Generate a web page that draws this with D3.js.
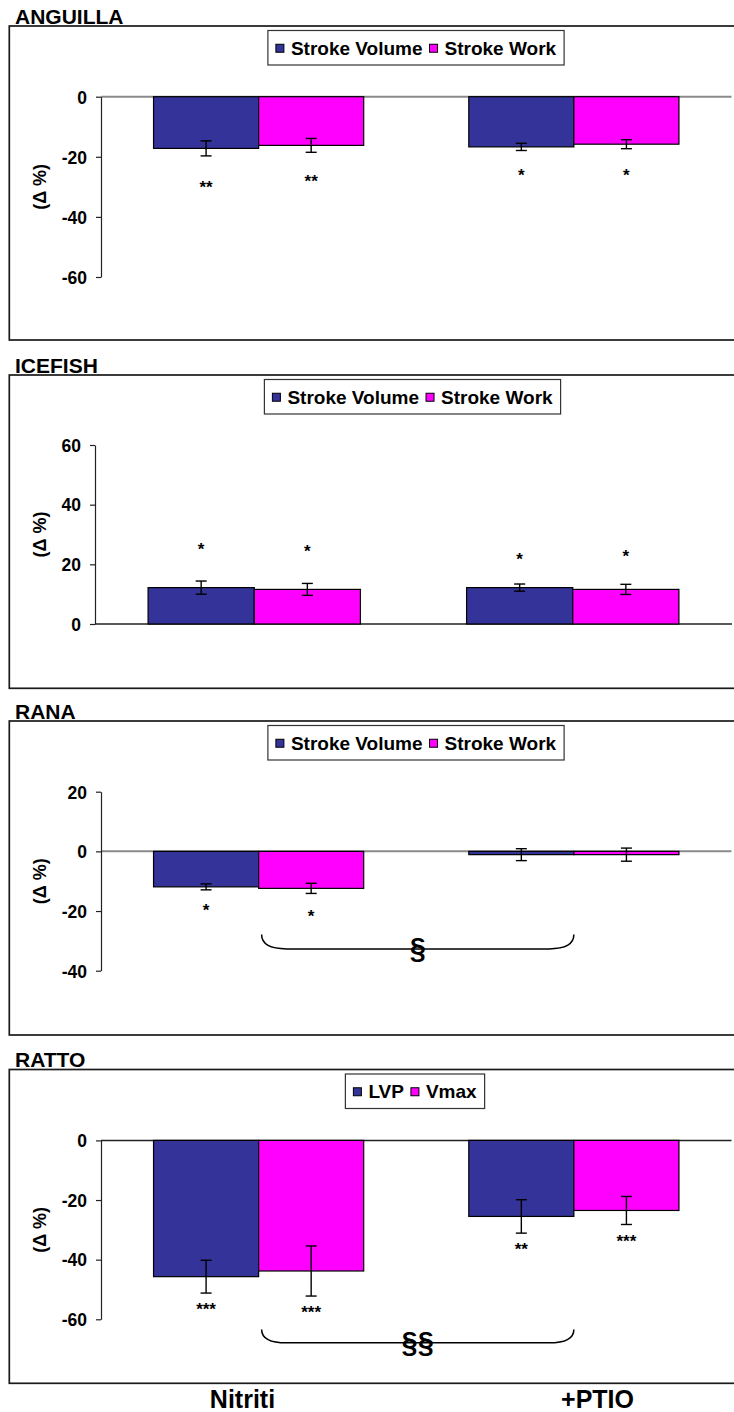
<!DOCTYPE html>
<html><head><meta charset="utf-8">
<script src="https://cdn.jsdelivr.net/npm/d3@7"></script>
<style>
html,body{margin:0;padding:0;background:#fff;}
svg{display:block;}
text{font-family:"Liberation Sans",Arial,sans-serif;font-weight:bold;fill:#000;}
</style>
</head><body>
<svg id="chart" width="734" height="1412"></svg>
<script>
// ---------------- DATA ----------------
const categories = ["Nitriti", "+PTIO"];
const panelTitles = ["ANGUILLA", "ICEFISH", "RANA", "RATTO"];
const fishSeriesNames = ["Stroke Volume", "Stroke Work"];
const ratSeriesNames = ["LVP", "Vmax"];
const yAxisLabel = "(\u0394 %)";

// ANGUILLA
const anguillaStrokeVolume = [-17.2, -16.7];
const anguillaStrokeVolumeErr = [2.5, 1.2];
const anguillaStrokeWork = [-16.2, -15.8];
const anguillaStrokeWorkErr = [2.3, 1.5];
const anguillaStrokeVolumeSig = ["**", "*"];
const anguillaStrokeWorkSig = ["**", "*"];
const anguillaStrokeVolumeSigAt = [-28.7, -24.8];
const anguillaStrokeWorkSigAt = [-27.0, -24.8];
const anguillaTicks = [0, -20, -40, -60];

// ICEFISH
const icefishStrokeVolume = [12.2, 12.2];
const icefishStrokeVolumeErr = [2.2, 1.2];
const icefishStrokeWork = [11.6, 11.6];
const icefishStrokeWorkErr = [2.0, 1.7];
const icefishStrokeVolumeSig = ["*", "*"];
const icefishStrokeWorkSig = ["*", "*"];
const icefishStrokeVolumeSigAt = [26.5, 23.1];
const icefishStrokeWorkSigAt = [25.6, 23.9];
const icefishTicks = [60, 40, 20, 0];

// RANA
const ranaStrokeVolume = [-11.9, -1.1];
const ranaStrokeVolumeErr = [1.0, 2.0];
const ranaStrokeWork = [-12.4, -1.1];
const ranaStrokeWorkErr = [1.7, 2.2];
const ranaStrokeVolumeSig = ["*", ""];
const ranaStrokeWorkSig = ["*", ""];
const ranaStrokeVolumeSigAt = [-18.4, 0];
const ranaStrokeWorkSigAt = [-20.6, 0];
const ranaTicks = [20, 0, -20, -40];
const ranaBraceLabel = "\u00A7";
const ranaBraceRange = [-27.9, -32.7];

// RATTO
const rattoLVP = [-45.7, -25.5];
const rattoLVPErr = [5.5, 5.6];
const rattoVmax = [-43.8, -23.5];
const rattoVmaxErr = [8.4, 4.7];
const rattoLVPSig = ["***", "**"];
const rattoVmaxSig = ["***", "***"];
const rattoLVPSigAt = [-55.5, -35.1];
const rattoVmaxSigAt = [-56.3, -32.6];
const rattoTicks = [0, -20, -40, -60];
const rattoBraceLabel = "\u00A7\u00A7";
const rattoBraceRange = [-63.4, -67.9];

// ---------------- LAYOUT ----------------
const colors = ["#333399", "#FF00FF"];
const layout = [
  {frameTop: 26,   frameBottom: 340,    tickTopPx: 96.7,  tickBotPx: 277,   axisX: 101, plotRight: 731.5, legendCx: 416,   zeroColor: "#8a8a8a", zeroWidth: 2},
  {frameTop: 375,  frameBottom: 688.3,  tickTopPx: 445,   tickBotPx: 624,   axisX: 95,  plotRight: 732,   legendCx: 412.5, zeroColor: "#222",    zeroWidth: 1.5},
  {frameTop: 721,  frameBottom: 1035,   tickTopPx: 791.7, tickBotPx: 970.7, axisX: 101, plotRight: 731.5, legendCx: 416,   zeroColor: "#8a8a8a", zeroWidth: 2},
  {frameTop: 1069.5, frameBottom: 1383.3, tickTopPx: 1140.4, tickBotPx: 1319.3, axisX: 101, plotRight: 731.5, legendCx: 415, zeroColor: "#222", zeroWidth: 1.5}
];

const panels = [
  {title: panelTitles[0], names: fishSeriesNames, ticks: anguillaTicks,
   series: [
     {values: anguillaStrokeVolume, err: anguillaStrokeVolumeErr, sig: anguillaStrokeVolumeSig, sigAt: anguillaStrokeVolumeSigAt},
     {values: anguillaStrokeWork, err: anguillaStrokeWorkErr, sig: anguillaStrokeWorkSig, sigAt: anguillaStrokeWorkSigAt}]},
  {title: panelTitles[1], names: fishSeriesNames, ticks: icefishTicks,
   series: [
     {values: icefishStrokeVolume, err: icefishStrokeVolumeErr, sig: icefishStrokeVolumeSig, sigAt: icefishStrokeVolumeSigAt},
     {values: icefishStrokeWork, err: icefishStrokeWorkErr, sig: icefishStrokeWorkSig, sigAt: icefishStrokeWorkSigAt}]},
  {title: panelTitles[2], names: fishSeriesNames, ticks: ranaTicks, brace: {label: ranaBraceLabel, range: ranaBraceRange},
   series: [
     {values: ranaStrokeVolume, err: ranaStrokeVolumeErr, sig: ranaStrokeVolumeSig, sigAt: ranaStrokeVolumeSigAt},
     {values: ranaStrokeWork, err: ranaStrokeWorkErr, sig: ranaStrokeWorkSig, sigAt: ranaStrokeWorkSigAt}]},
  {title: panelTitles[3], names: ratSeriesNames, ticks: rattoTicks, brace: {label: rattoBraceLabel, range: rattoBraceRange},
   series: [
     {values: rattoLVP, err: rattoLVPErr, sig: rattoLVPSig, sigAt: rattoLVPSigAt},
     {values: rattoVmax, err: rattoVmaxErr, sig: rattoVmaxSig, sigAt: rattoVmaxSigAt}]}
];

const svg = d3.select("#chart");

panels.forEach((p, i) => {
  const L = layout[i];
  const g = svg.append("g");

  // frame
  g.append("rect")
    .attr("x", 9.3).attr("y", L.frameTop)
    .attr("width", 740).attr("height", L.frameBottom - L.frameTop)
    .attr("fill", "none").attr("stroke", "#1a1a1a").attr("stroke-width", 1.7);

  // title
  g.append("text").attr("x", 15).attr("y", L.frameTop - 2.2)
    .attr("font-size", 21).text(p.title);

  // scales
  const y = d3.scaleLinear()
    .domain([d3.max(p.ticks), d3.min(p.ticks)])
    .range([L.tickTopPx, L.tickBotPx]);
  const x = d3.scaleBand().domain(categories)
    .range([L.axisX, L.plotRight]).paddingInner(1/3).paddingOuter(1/6);
  const xs = d3.scaleBand().domain(d3.range(p.series.length)).range([0, x.bandwidth()]);

  // zero line
  g.append("line")
    .attr("x1", L.axisX).attr("x2", L.plotRight)
    .attr("y1", y(0)).attr("y2", y(0))
    .attr("stroke", L.zeroColor).attr("stroke-width", L.zeroWidth);

  // bars
  p.series.forEach((s, si) => {
    const data = categories.map((c, ci) => ({c, v: s.values[ci], e: s.err[ci], sig: s.sig[ci], sigAt: s.sigAt[ci]}));
    const sg = g.append("g");
    sg.selectAll("rect.bar").data(data).join("rect")
      .attr("class", "bar")
      .attr("x", d => x(d.c) + xs(si))
      .attr("width", xs.bandwidth())
      .attr("y", d => Math.min(y(d.v), y(0)))
      .attr("height", d => Math.abs(y(d.v) - y(0)))
      .attr("fill", colors[si]).attr("stroke", "#000").attr("stroke-width", 1.2);

    // error bars
    const cx = d => x(d.c) + xs(si) + xs.bandwidth() / 2;
    const eg = sg.selectAll("g.err").data(data).join("g").attr("class", "err");
    eg.append("line").attr("x1", cx).attr("x2", cx)
      .attr("y1", d => y(d.v + d.e)).attr("y2", d => y(d.v - d.e))
      .attr("stroke", "#000").attr("stroke-width", 1.4);
    [1, -1].forEach(sign => {
      eg.append("line")
        .attr("x1", d => cx(d) - 5.5).attr("x2", d => cx(d) + 5.5)
        .attr("y1", d => y(d.v + sign * d.e)).attr("y2", d => y(d.v + sign * d.e))
        .attr("stroke", "#000").attr("stroke-width", 1.4);
    });

    // significance stars
    sg.selectAll("text.sig").data(data.filter(d => d.sig)).join("text")
      .attr("class", "sig")
      .attr("x", cx)
      .attr("y", d => y(d.sigAt) + 9.6)
      .attr("text-anchor", "middle")
      .attr("font-size", 17)
      .text(d => d.sig);
  });

  // y axis
  const axis = d3.axisLeft(y).tickValues(p.ticks).tickSize(5).tickSizeOuter(0)
    .tickPadding(9).tickFormat(d => String(d));
  const ag = g.append("g").attr("transform", `translate(${L.axisX},0)`).call(axis);
  ag.selectAll("path,line").attr("stroke", "#222").attr("stroke-width", 1.2);
  ag.selectAll("text").attr("font-size", 17.5)
    .attr("font-family", '"Liberation Sans",Arial,sans-serif')
    .attr("font-weight", "bold").attr("fill", "#000").attr("dy", "0.36em");

  // y axis label
  const yc = (L.tickTopPx + L.tickBotPx) / 2;
  g.append("text")
    .attr("transform", `translate(46,${yc}) rotate(-90)`)
    .attr("text-anchor", "middle").attr("font-size", 18)
    .text(yAxisLabel);

  // brace
  if (p.brace) {
    const x1 = x(categories[0]) + x.bandwidth() / 2 + 3;
    const x2 = x(categories[1]) + x.bandwidth() / 2;
    const yt = y(p.brace.range[0]);
    const yb = y(p.brace.range[1]);
    const path = d3.path();
    path.moveTo(x1, yt);
    path.quadraticCurveTo(x1, yb, x1 + 25, yb);
    path.lineTo(x2 - 25, yb);
    path.quadraticCurveTo(x2, yb, x2, yt);
    g.append("path").attr("d", path.toString())
      .attr("fill", "none").attr("stroke", "#000").attr("stroke-width", 1.5);
    g.append("text").attr("x", (x1 + x2) / 2).attr("y", yb + 9)
      .attr("text-anchor", "middle").attr("font-size", 29)
      .text(p.brace.label);
  }

  // legend
  const lg = g.append("g");
  const fs = 19;
  const items = p.names.map(n => ({n}));
  const tmp = lg.selectAll("text.tmp").data(items).join("text")
    .attr("font-size", fs).text(d => d.n);
  tmp.each(function(d) { d.w = this.getComputedTextLength(); });
  tmp.remove();
  const pad = 8, sw = 8, gap1 = 7, gap2 = 7;
  let total = pad;
  items.forEach((d, k) => { d.x = total; total += sw + gap1 + d.w + (k < items.length - 1 ? gap2 : 0); });
  total += pad;
  const lx = L.legendCx - total / 2;
  const ly = L.frameTop + 4.5;
  const lh = 34.5;
  lg.append("rect").attr("x", lx).attr("y", ly).attr("width", total).attr("height", lh)
    .attr("fill", "#fff").attr("stroke", "#333").attr("stroke-width", 1.2);
  items.forEach((d, k) => {
    lg.append("rect").attr("x", lx + d.x).attr("y", ly + lh / 2 - 3.5)
      .attr("width", sw).attr("height", sw)
      .attr("fill", colors[k]).attr("stroke", "#000").attr("stroke-width", 1);
    lg.append("text").attr("x", lx + d.x + sw + gap1).attr("y", ly + lh / 2 + 7)
      .attr("font-size", fs).text(d.n);
  });
});

// category labels under the last panel
const catLabelScale = d3.scalePoint().domain(categories).range([242.5, 597.5]);
svg.append("g").selectAll("text").data(categories).join("text")
  .attr("x", d => catLabelScale(d)).attr("y", 1408)
  .attr("text-anchor", "middle").attr("font-size", 25)
  .text(d => d);
</script>
</body></html>
